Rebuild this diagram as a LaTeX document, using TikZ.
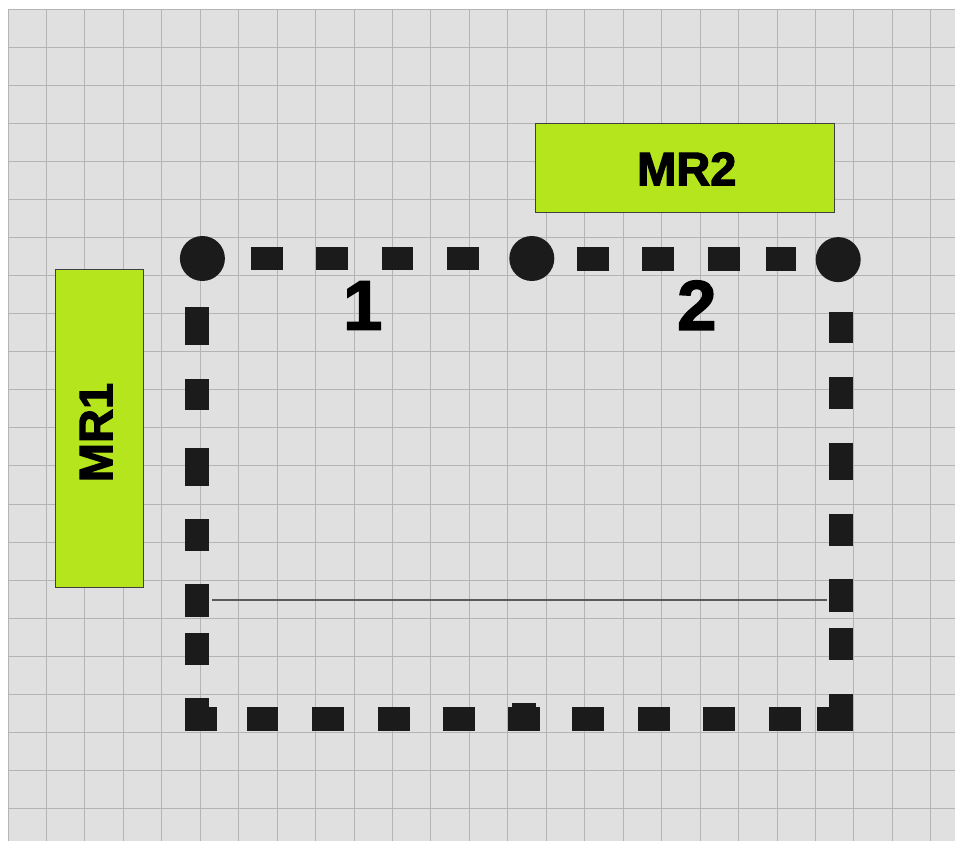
\documentclass[tikz,border=0pt]{standalone}
\usepackage{fontspec}
\setmainfont{Liberation Sans}[BoldFeatures={FakeBold=2.5}]
\definecolor{bggrey}{HTML}{E0E0E0}
\definecolor{gridgrey}{HTML}{B4B4B4}
\definecolor{lime1}{HTML}{B5E61D}
\definecolor{boxedge}{HTML}{404040}
\definecolor{dotblack}{HTML}{1B1B1B}
\definecolor{thinc}{HTML}{5A5A5A}
\begin{document}
\begin{tikzpicture}[x=1pt,y=-1pt,
  gridline/.style={draw=gridgrey,line width=1pt},
  mrbox/.style={draw=boxedge,fill=lime1,line width=1pt,inner sep=0pt},
  dot/.style={circle,fill=dotblack,inner sep=0pt,minimum size=45pt},
  edgeline/.style={draw=dotblack,line width=24pt,line cap=butt},
  thinline/.style={draw=thinc,line width=1.3pt},
  lbl/.style={font=\fontsize{47}{47}\selectfont\bfseries,text=black,inner sep=0pt},
  num/.style={font=\fontsize{70}{70}\selectfont\bfseries,text=black,inner sep=0pt}]
\useasboundingbox (0,0) rectangle (955,841);
\fill[white] (0,0) rectangle (955,841);
\fill[bggrey] (8,9) rectangle (955,841);
\foreach \i in {0,...,24} \draw[gridline] ({8+38.45*\i},9) -- ({8+38.45*\i},841);
\foreach \j in {0,...,21} \draw[gridline] (8,{9+38.08*\j}) -- (955,{9+38.08*\j});

% boxes
\node[mrbox,minimum width=299pt,minimum height=88.5pt] (mr2) at (685,168) {};
\node[lbl] (mr2t) at (686.8,168.8) {MR2};
\node[mrbox,minimum width=88.4pt,minimum height=318pt] (mr1) at (99.5,428.3) {};
\node[lbl,rotate=90] (mr1t) at (96,432.5) {MR1};

% corner coordinates
\coordinate (c1p) at (202.4,258.5);
\coordinate (c2p) at (531.8,258.5);
\coordinate (c3p) at (838.2,259.6);
\coordinate (tl) at (197.2,259);
\coordinate (bl) at (197.2,731);
\coordinate (bs) at (185,718.7);
\coordinate (be) at (853.3,718.7);
\coordinate (tr) at (841.3,260);
\coordinate (br) at (841.3,731.3);
\coordinate (hl) at (212.3,600);
\coordinate (hr) at (826.7,600);

% dashed sides
\draw[edgeline,line width=23.5pt,dash pattern=on 0pt off 48.3pt on 32pt off 33.3pt on 32pt off 33.7pt on 31.6pt off 34pt on 31.7pt off 200pt] (c1p) -- (c2p);
\draw[edgeline,dash pattern=on 0pt off 44.9pt on 32pt off 33.3pt on 32pt off 33.7pt on 32pt off 26.3pt on 29.7pt off 200pt] (c2p) -- (c2p -| c3p);
\draw[edgeline,line width=24.3pt,dash pattern=on 0pt off 48.3pt on 37.7pt off 34pt on 31.3pt off 37.7pt on 37.7pt off 33.6pt on 31.7pt off 33.3pt on 32.4pt off 16.6pt on 31.7pt off 33.3pt on 32pt off 200pt] (tl) -- (bl);
\draw[edgeline,dash pattern=on 31.7pt off 30pt on 31.6pt off 34pt on 31.4pt off 34pt on 31.8pt off 33.2pt on 32pt off 33.6pt on 31.7pt off 32.3pt on 31.7pt off 34pt on 32pt off 33.3pt on 32pt off 33.7pt on 31.7pt off 16.6pt on 36pt off 200pt] (bs) -- (be);
\draw[edgeline,dash pattern=on 0pt off 51.7pt on 31.6pt off 34pt on 32pt off 33.4pt on 37.6pt off 33.7pt on 32pt off 33.3pt on 32.4pt off 16.6pt on 31.7pt off 34pt on 37.3pt off 200pt] (tr) -- (br);
\fill[dotblack] (511.7,702.7) rectangle (536,708);

% thin line
\draw[thinline] (hl) -- (hr);

% vertices
\node[dot] (c1) at (c1p) {};
\node[dot] (c2) at (c2p) {};
\node[dot] (c3) at (c3p) {};

% labels
\node[num] (n1) at (362.8,305.5) {1};
\node[num] (n2) at (696.8,305.2) {2};
\end{tikzpicture}
\end{document}
